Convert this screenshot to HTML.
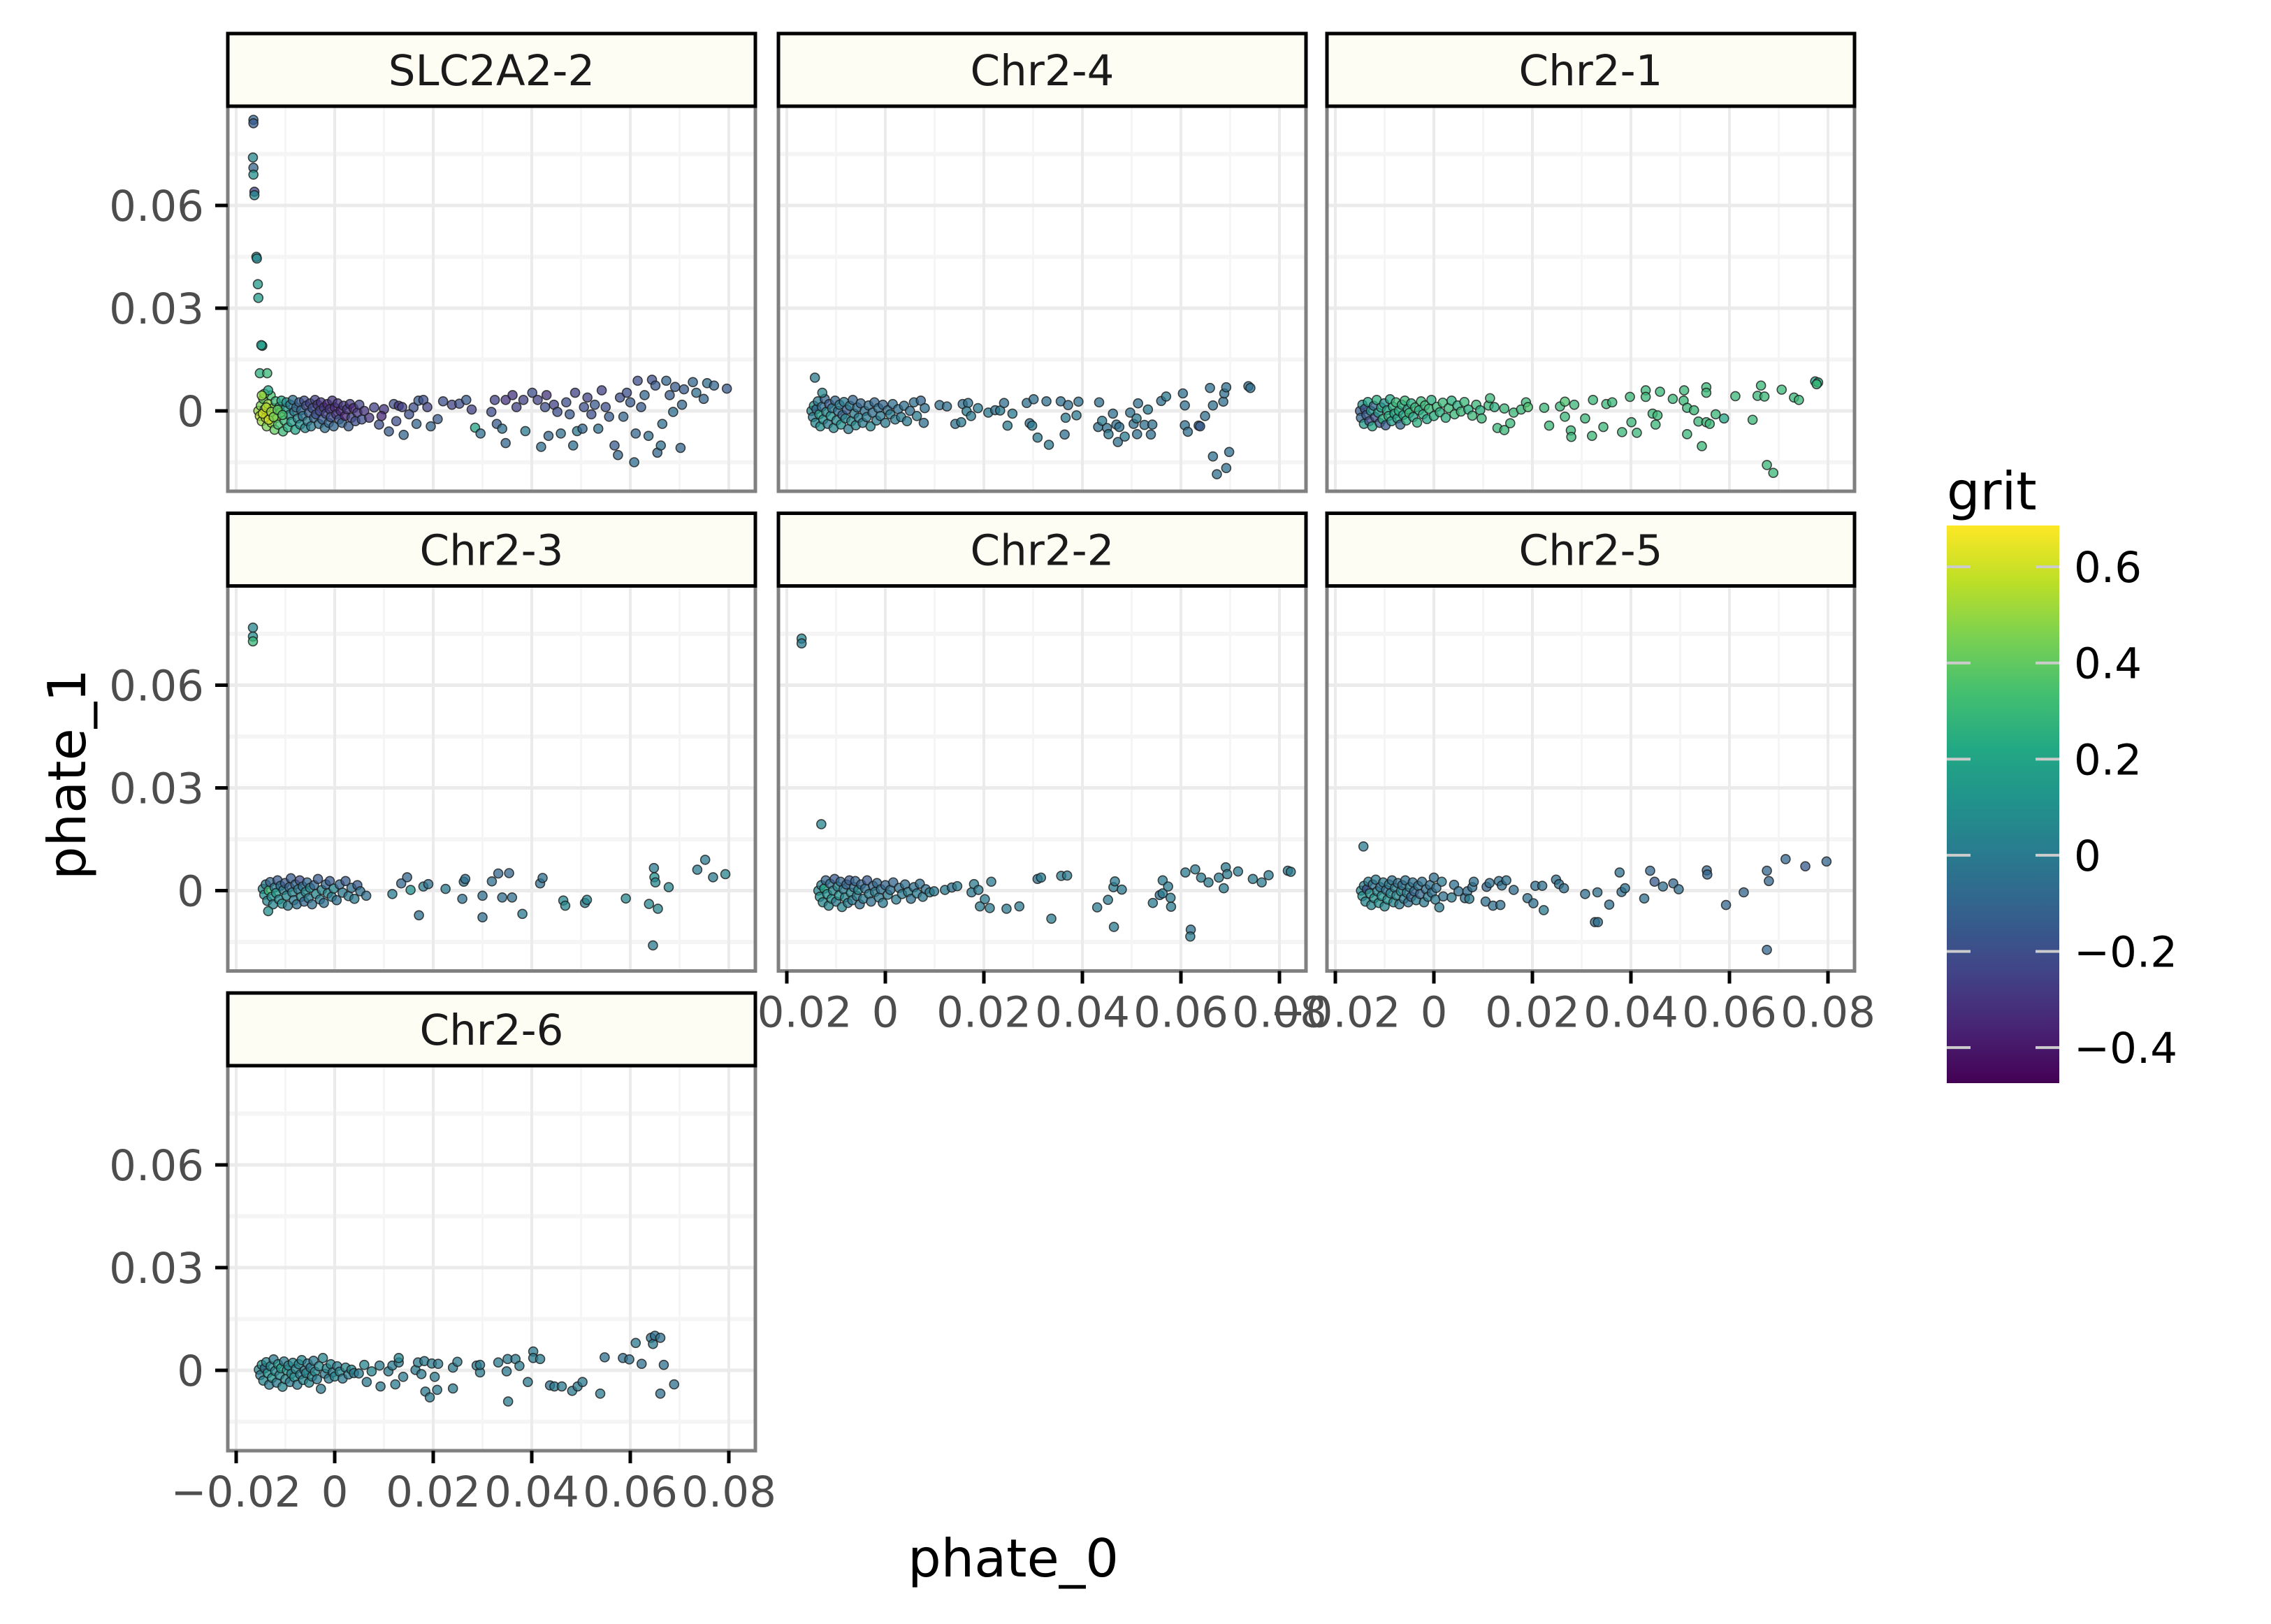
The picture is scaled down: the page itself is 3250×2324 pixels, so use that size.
<!DOCTYPE html>
<html><head><meta charset="utf-8"><style>
html,body{margin:0;padding:0;background:#fff;}
svg{display:block;font-family:"DejaVu Sans","Liberation Sans",sans-serif;}
</style></head><body>
<svg id="chart" width="3250" height="2324" viewBox="0 0 3250 2324" xmlns="http://www.w3.org/2000/svg">
<rect x="0" y="0" width="3250" height="2324" fill="#fff"/>
<g id="panels"></g>
<text x="1450" y="2256" font-size="75" text-anchor="middle" fill="#000">phate_0</text>
<text x="0" y="0" font-size="75" text-anchor="middle" fill="#000" transform="translate(122,1108) rotate(-90)">phate_1</text>
<g id="legend">
<text x="2786" y="729" font-size="75" fill="#000">grit</text>
</g>
</svg>
<script>
// ---- data (phate values in units of 1e-3; third value = grit) ----
const panelTitles = ["SLC2A2-2","Chr2-4","Chr2-1","Chr2-3","Chr2-2","Chr2-5","Chr2-6"];
const xTicks = [-0.02,0,0.02,0.04,0.06,0.08];
const xTickLabels = ["\u22120.02","0","0.02","0.04","0.06","0.08"];
const xMinor = [-0.01,0.01,0.03,0.05,0.07];
const yTicks = [0.06,0.03,0];
const yTickLabels = ["0.06","0.03","0"];
const yMinor = [0.075,0.045,0.015,-0.015];
const gritTicks = [0.6,0.4,0.2,0,-0.2,-0.4];
const gritTickLabels = ["0.6","0.4","0.2","0","\u22120.2","\u22120.4"];

const slc2a2_2 = [[-15.5,0,0.5],[-15.2,-1.5,0.55],[-15,1.5,0.45],[-14.8,-3,0.5],[-14.5,3.5,0.4],[-14.2,0.5,0.6],[-14,-2,0.55],[-13.8,-4.5,0.45],[-13.5,2,0.5],[-13.2,-1,0.6],[-13,4.5,0.35],[-12.8,-3.5,0.5],[-12.5,0.8,0.45],[-12.2,-5.5,0.4],[-12,2.8,0.3],[-11.8,-2,0.5],[-11.5,-4,0.35],[-11.2,1.2,0.25],[-11,-0.5,0.4],[-10.8,3,0.2],[-10.5,-6,0.3],[-10.2,-2.8,0.3],[-10,0.5,0.15],[-9.8,2.5,0.1],[-9.5,-4.8,0.25],[-9.2,-1.2,0.1],[-9,1.8,0],[-8.8,-3.2,0.15],[-8.5,3.2,-0.05],[-8.2,-0.2,0],[-8,-5.5,0.2],[-7.8,1,-0.1],[-7.5,-2.2,0.05],[-7.2,2.5,-0.15],[-7,-4,0.1],[-6.8,0.2,-0.1],[-6.5,-1.5,-0.05],[-6.2,3,-0.2],[-6,-5,0.05],[-5.8,1.5,-0.2],[-5.5,-3,0],[-5.2,-0.5,-0.15],[-5,2.2,-0.25],[-4.8,-4.5,0],[-4.5,0.8,-0.2],[-4.2,-2,-0.1],[-4,3.2,-0.25],[-3.8,-1,-0.2],[-3.5,1.8,-0.3],[-3.2,-3.8,-0.05],[-3,0,-0.25],[-2.8,2.5,-0.3],[-2.5,-2.5,-0.15],[-2.2,1,-0.3],[-2,-5,-0.05],[-1.8,-0.8,-0.25],[-1.5,2,-0.35],[-1.2,-3.5,-0.1],[-1,0.5,-0.3],[-0.8,-1.8,-0.2],[-0.5,3,-0.3],[-0.2,-4.5,-0.1],[0,1,-0.35],[0.3,-1,-0.3],[0.6,2.2,-0.3],[0.9,-2.5,-0.2],[1.2,0,-0.35],[1.5,-3.5,-0.1],[1.8,1.5,-0.3],[2.1,-1.5,-0.35],[2.5,0.5,-0.3],[2.8,-4.5,-0.15],[3.1,2,-0.3],[3.4,-2,-0.25],[3.8,0.8,-0.35],[4.2,-3,-0.2],[4.6,-0.5,-0.3],[5,1.8,-0.25],[5.5,-2.5,-0.2],[6,0,-0.3],[-14.6,-0.8,0.6],[-13.9,1,0.55],[-13.4,-2.6,0.6],[-12.9,-0.3,0.5],[-12.4,-1.8,0.45],[-11.6,0.3,0.4],[-10.6,-1.2,0.35],
[7,-2,-0.3],[8,1,-0.25],[9,-4,-0.2],[10,0.5,-0.3],[11,-6,-0.15],[12,2,-0.2],[9.5,-1.5,-0.35],[12.5,-3,-0.2],[14,-7,-0.1],[16,1,-0.2],[17,3,-0.15],[13,1.5,-0.3],
[13.7,1.1,-0.25],[15.1,-1,-0.2],[16.6,-3.8,-0.1],[18,3.2,-0.2],[18.8,1.1,-0.25],[19.5,-4.5,-0.1],[20.9,-2.4,-0.15],[22,2.8,-0.2],[23.8,1.8,-0.25],[25.3,2.1,-0.2],[26.7,3.2,-0.15],[27.8,0.4,-0.25],[28.5,-4.9,0.2],[29.6,-6.6,-0.05],[31.8,-0.3,-0.2],[32.5,3.2,-0.25],[32.9,-3.8,-0.15],[34,-5.2,-0.05],[34.7,3.2,-0.3],[34.7,-9.4,-0.1],[36.1,4.6,-0.3],[36.9,1.1,-0.25],[38.3,3.2,-0.25],[38.7,-5.9,0],[40.1,5.3,-0.2],[41.2,3.2,-0.25],[41.9,-10.5,-0.05],[42.7,1.1,-0.2],[43,4.6,-0.3],[43.4,-7.3,-0.1],[44.5,1.8,-0.25],[45.2,-0.3,-0.2],[45.9,-6.6,-0.05],[47,2.5,-0.2],[47.7,-1,-0.15],[48.4,-10.1,-0.05],[48.8,5.3,-0.25],[49.2,-5.9,0],[50.3,-5.2,-0.1],[50.6,1.1,-0.2],[51.3,3.9,-0.25],[52.1,-1,-0.2],[52.8,1.8,-0.15],[53.5,-5.2,-0.05],[54.2,6,-0.25],[55,1.1,-0.2],[55.7,-1.7,-0.15],[56.8,-10.1,-0.15],[57.5,-12.9,-0.1],[57.9,3.9,-0.2],[58.6,-1.7,-0.1],[59.3,5.3,-0.2],[60,2.5,-0.15],[60.8,-15,-0.05],[61.1,-6.6,-0.1],[61.5,8.8,-0.2],[62.2,1.1,-0.15],[62.9,4.6,-0.1],[63.7,-7.3,-0.05],[64.4,9.1,-0.2],[65.1,7.4,-0.15],[65.5,-12.2,-0.1],[66.2,-10.1,-0.05],[66.5,-3.8,-0.05],[67.3,8.8,-0.1],[68,4.6,-0.15],[68.7,-0.3,-0.05],[69.1,7,-0.15],[70.2,-10.8,-0.1],[70.5,1.8,-0.1],[70.9,6.3,-0.15],[72.7,8.4,-0.1],[73.4,5.3,-0.05],[74.9,3.5,-0.1],[75.6,8.1,-0.05],[77,7.4,-0.1],[79.6,6.5,-0.15],
[-16.5,85,-0.1],[-16.5,84,-0.15],[-16.6,74,0.05],[-16.5,71,-0.1],[-16.5,69,0.1],[-16.3,64,-0.25],[-16.3,63,0.05],[-15.9,45,0.1],[-15.8,44.5,0.05],[-15.6,37,0.15],[-15.5,33,0.15],[-14.7,19,0.2],[-14.9,19.2,0.15],[-15.2,11,0.25],[-13.7,11,0.3],[-14.3,5,0.45],[-13.5,6,0.2],[-14.8,4.5,0.5]];

const chr2_4 = [[-15,0,0.05],[-14.7,-1.8,0],[-14.5,1.5,0.1],[-14.2,-3.5,0.05],[-14,0.5,-0.1],[-13.7,2.8,0],[-13.4,-1,0.15],[-13.2,-4.5,0.1],[-12.9,1.2,-0.05],[-12.6,-2.5,0.1],[-12.3,3.5,-0.1],[-12,-0.3,0.05],[-11.7,-3.8,0],[-11.4,2,-0.15],[-11.1,-1.5,0.1],[-10.8,0.8,0],[-10.5,-5,0.05],[-10.2,3,-0.1],[-9.9,-2.8,0.05],[-9.6,0,-0.05],[-9.3,1.8,0],[-9,-4,0.1],[-8.7,-1.2,-0.1],[-8.4,2.6,0],[-8.1,-2.2,0.05],[-7.8,0.4,-0.15],[-7.5,-5.3,0],[-7.2,1.5,0],[-6.9,-3,0.05],[-6.6,3.2,-0.1],[-6.3,-0.8,0],[-6,-4.2,0.05],[-5.7,1,-0.05],[-5.4,-2,0],[-5,2.2,-0.1],[-4.6,-3.5,0],[-4.2,0,-0.05],[-3.8,-1.8,0],[-3.4,1.6,-0.05],[-3,-4.5,0.05],[-2.6,-0.5,-0.05],[-2.2,2.5,-0.1],[-1.8,-2.8,0],[-1.4,0.8,-0.05],[-1,-1.5,0],[-0.5,1.8,-0.1],[0,-3.5,0],[0.5,0.2,-0.05],[1,-1,0],[1.5,2,-0.05],[2,-2.5,0],[2.6,0.5,-0.05],[3.2,-1.8,0],[3.8,1.5,-0.05],[4.4,-3,0],[5,0,-0.05],[5.8,2.5,-0.05],[6.4,-1.5,0],[7.2,3,-0.1],[7.8,-3.5,-0.05],[8,0.8,-0.05],
[-14.3,9.7,0],[-12.8,5.3,0.05],[11,1.7,-0.05],[12.5,1.3,-0.05],[14.2,-3.8,-0.05],[15.4,-3.3,0],[15.7,2,-0.05],[16.8,2.3,-0.05],[16.5,-0.1,0],[17.4,-1.5,0],[18.8,0.8,0],[20.9,-0.5,0],[22.3,0.2,-0.05],[23.3,0.1,0],[24.1,2.3,-0.05],[24.8,-4.3,0],[25.8,-0.8,0],[28.7,2.3,-0.05],[29.3,-3.6,-0.05],[29.8,-4.3,0],[30.1,3.4,-0.05],[30.9,-7.8,0],[32.7,2.8,-0.05],[33.2,-9.9,0],[35.6,2.8,-0.05],[36.4,-6.9,-0.05],[36.6,-2,0],[37.1,1.7,-0.05],[38.8,-1.3,0],[39.2,2.7,-0.05],[43.2,-4.7,-0.05],[43.4,2.5,-0.05],[44,-2.9,0],[45,-5,-0.05],[45.3,-6.8,0],[46.2,-0.8,-0.05],[46.9,-4,-0.05],[47.2,-9.1,-0.05],[47.5,-4.7,-0.05],[48.6,-7.5,0],[49.7,-0.5,-0.05],[50.4,-3.8,-0.05],[51,-2.2,0],[51.1,-6.8,-0.05],[51.3,2.2,-0.05],[52.6,-4.1,-0.05],[53.3,0.4,0],[53.9,-6.9,-0.05],[54.2,-4,-0.05],[56,2.9,-0.05],[57,4.2,0],[60.4,5.1,-0.05],[60.8,-4.2,-0.05],[60.8,1.6,-0.05],[61.4,-6.1,-0.05],[63.6,-4.3,-0.1],[63.9,-4.5,-0.15],[64.9,-1.5,-0.05],[65.9,6.7,-0.05],[66.5,1.6,-0.05],[66.5,-13.3,-0.05],[67.3,-18.5,-0.05],[68.6,2.7,-0.05],[68.8,5.1,-0.05],[69.2,6.9,-0.05],[69.2,-16.7,-0.05],[69.8,-12,-0.05],[73.7,7.2,-0.05],[74.1,6.7,-0.05]];

const chr2_1 = [[-15,0,-0.15],[-14.8,-2,-0.1],[-14.5,1.8,0.1],[-14.2,-3.8,0.15],[-14,0.6,-0.2],[-13.7,-1.2,-0.15],[-13.4,2.6,0.2],[-13.1,-3,-0.2],[-12.8,0,0.1],[-12.5,-4.5,0.2],[-12.2,1.5,-0.1],[-11.9,-1.8,-0.2],[-11.6,3.2,0.25],[-11.3,-0.5,0.15],[-11,-3.5,-0.15],[-10.7,1,0.2],[-10.4,-2.4,0.25],[-10.1,2.2,0.1],[-9.8,-4.2,-0.15],[-9.5,0.2,0.2],[-9.2,-1.5,0.25],[-8.9,3.4,0.2],[-8.6,-3,0.15],[-8.3,1.2,0.25],[-8,-0.8,0.2],[-7.7,2.5,0.3],[-7.4,-2.2,0.2],[-7.1,0,0.25],[-6.8,-4,-0.1],[-6.5,1.8,0.25],[-6.2,-1.2,0.2],[-5.9,3,0.3],[-5.6,-2.8,0.25],[-5.3,0.5,0.2],[-5,-0.6,0.3],[-4.6,2.2,0.25],[-4.2,-1.8,0.2],[-3.8,1,0.3],[-3.4,-3.4,0.25],[-3,0.2,0.25],[-2.6,2.8,0.3],[-2.2,-1,0.25],[-1.8,1.6,0.3],[-1.4,-2.4,0.2],[-1,0.6,0.3],[-0.5,3.2,0.25],[0,-1.5,0.25],[0.6,1.2,0.3],[1.2,-0.4,0.25],[1.8,2.4,0.3],[2.4,-2,0.25],[3,0.8,0.3],[3.6,3,0.25],[4.2,-1,0.3],[4.8,1.6,0.25],[5.5,-0.2,0.3],[6.2,2.6,0.3],[7,0.4,0.25],[7.8,-1.4,0.3],[8.6,1.8,0.3],[9.4,0.2,0.25],
[9.7,-2.2,0.3],[11.1,1.6,0.3],[11.4,3.7,0.3],[12.3,1.1,0.25],[12.9,-5,0.3],[14.3,0.7,0.3],[14.3,-5.6,0.3],[15.5,-3.6,0.3],[16.2,-0.5,0.3],[17.7,0.4,0.3],[18.7,2.5,0.3],[19.1,1.1,0.35],[22.4,0.9,0.3],[23.4,-4.3,0.3],[25.6,1.3,0.3],[26.6,2.7,0.35],[26.6,-1.7,0.3],[27.8,-5.7,0.3],[27.9,-7.6,0.3],[28.5,1.8,0.3],[30.7,-2.2,0.3],[32.1,-7.3,0.3],[32.3,3.2,0.3],[34.4,-4.7,0.3],[35,2,0.3],[36.2,2.5,0.3],[38.2,-6.2,0.3],[39.8,4.1,0.3],[40.1,-3.3,0.3],[41.2,-6.4,0.3],[43,6,0.3],[43,4.1,0.3],[44.4,-0.8,0.3],[45,-4,0.3],[45.4,-1.3,0.3],[45.9,5.6,0.3],[48.5,3.5,0.3],[50.7,3,0.3],[50.8,6,0.3],[51.4,0.9,0.3],[51.4,-6.8,0.3],[52.8,0.2,0.3],[53.7,-3.1,0.3],[54.4,-10.3,0.3],[55.3,6.9,0.3],[55.3,5.3,0.3],[55.3,-3.3,0.3],[56,-3.8,0.3],[57.2,-1,0.3],[58.9,-2.2,0.2],[61.2,4.3,0.3],[64.7,-2.6,0.3],[65.7,4.4,0.3],[66.4,7.4,0.3],[67.1,4.2,0.3],[67.6,-15.8,0.3],[68.9,-18.1,0.3],[70.6,6.2,0.3],[73.1,3.9,0.3],[74.1,3.2,0.3],[77.4,8.6,0.2],[78,8.3,0.25],[77.7,7.8,0.3]];

const chr2_3 = [[-14.6,0.5,0.05],[-14.3,-1.2,0.1],[-14,1.8,0],[-13.7,-3,0.05],[-13.4,0,0.3],[-13.1,2.5,-0.1],[-12.8,-1.8,0.1],[-12.5,-4,0.05],[-12.2,0.9,0],[-11.9,-0.7,0.15],[-11.6,3,-0.15],[-11.3,-2.6,0.05],[-11,1.4,-0.05],[-10.7,-3.8,0.1],[-10.4,0.2,0],[-10.1,2.2,-0.15],[-9.8,-1.5,0.05],[-9.5,-4.4,0],[-9.2,1,-0.1],[-8.9,3.6,-0.15],[-8.6,-0.5,0.05],[-8.3,-2.8,0],[-8,1.8,-0.1],[-7.7,-4,-0.05],[-7.4,0.4,0],[-7.1,3,-0.2],[-6.8,-1.8,0.05],[-6.5,1.2,-0.05],[-6.2,-3.2,-0.1],[-5.9,-0.4,0.05],[-5.6,2.4,-0.1],[-5.3,-2.2,0],[-5,0.8,0.05],[-4.6,-4,-0.05],[-4.2,1.6,-0.1],[-3.8,-1,0.05],[-3.4,3.4,-0.15],[-3,-2.6,0],[-2.6,0.2,0.05],[-2.2,-3.6,-0.05],[-1.8,1.8,-0.1],[-1.4,-0.8,0.05],[-1,2.8,-0.15],[-0.6,-1.8,0],[-0.2,0.6,0.05],[0.4,-2.8,-0.05],[1,1.8,-0.1],[1.6,-0.6,0],[2.2,2.8,-0.15],[2.8,-1.6,0],[3.4,0.8,-0.05],[4,-2.4,0],[4.6,1.6,-0.15],[5.2,-0.2,-0.05],[-13.5,-6,0.1],
[6.4,-1.5,-0.05],[11.7,-1,0],[13.5,2.1,-0.1],[14.7,3.9,-0.1],[15.4,0.2,0.1],[17.1,-7.2,-0.05],[18,1.2,0],[19,1.9,-0.05],[22.5,0.5,0],[25.9,-2.4,-0.05],[26.2,2.6,-0.05],[26.5,3.4,-0.05],[30,-1.5,-0.05],[30,-7.8,-0.05],[31.9,2.7,-0.05],[33.2,5,-0.1],[34,-2,-0.05],[35.4,5.1,-0.1],[36,-2,-0.05],[38.1,-6.8,0],[41.7,2.1,-0.05],[42.2,3.7,-0.05],[46.4,-2.9,0.05],[46.8,-4.4,0.05],[50.8,-3.6,0],[51.2,-2.7,0.05],[59.1,-2.3,0.05],[63.8,-3.9,0.05],[64.6,-16,0],[64.8,6.6,0],[64.9,3.9,0.1],[65.1,2.4,0.05],[65.6,-5.3,0.05],[67.8,1,0.05],[73.6,6.1,0],[75.2,9,0],[76.8,3.9,0],[79.3,4.8,0.05],
[-16.6,76.8,0.05],[-16.6,74.2,0.1],[-16.6,72.8,0.3]];

const chr2_2 = [[-13.6,0,0.05],[-13.3,-1.8,0.1],[-13,1.6,0],[-12.7,-3.4,0.05],[-12.4,0.6,0.2],[-12.1,3,-0.1],[-11.8,-1,0.1],[-11.5,-4.4,0.05],[-11.2,2,-0.05],[-10.9,-2.4,0.1],[-10.6,0,0.05],[-10.3,3.4,-0.15],[-10,-3.2,0],[-9.7,1.2,0.05],[-9.4,-1.4,0.1],[-9.1,2.6,-0.1],[-8.8,-4.8,0.05],[-8.5,0.4,0],[-8.2,-2,0.05],[-7.9,1.8,-0.1],[-7.6,-3.6,0],[-7.3,3,-0.15],[-7,-0.6,0.05],[-6.7,-2.8,0],[-6.4,1,-0.05],[-6.1,2.8,-0.1],[-5.8,-1.6,0],[-5.5,0.2,0.05],[-5.2,-4,-0.05],[-4.9,1.8,-0.1],[-4.5,-2.4,0],[-4.1,0.6,-0.05],[-3.7,3,-0.15],[-3.3,-1,0],[-2.9,-3.2,-0.05],[-2.5,1.4,-0.1],[-2.1,-0.4,0],[-1.7,2.2,-0.1],[-1.3,-2,0],[-0.9,0.4,-0.05],[-0.5,-3.6,0],[0,1.6,-0.1],[0.5,-1.2,0],[1,0.2,-0.05],[1.6,2.4,-0.1],[2.2,-2.6,0],[2.8,0.8,-0.05],[3.4,-1,0],[4,1.8,-0.05],[4.6,-0.4,0],[5.2,-2.4,-0.05],[5.8,1,-0.05],[6.4,-0.8,0],[7,2,-0.05],[7.6,-1.8,0],[8.2,0.4,-0.05],[9,-0.5,0],
[9.9,-0.2,0],[12.1,0.2,0],[13.5,0.9,-0.05],[14.6,1.3,0],[17.5,-0.5,0],[18,1.9,0],[18.9,0.2,0],[19.2,-4.6,0],[20.2,-2.5,0],[21.2,-5.1,0],[21.5,2.6,0],[24.6,-5.3,0],[27.2,-4.6,0],[30.9,3.4,-0.05],[31.6,3.8,0],[33.7,-8.2,0],[35.7,4.3,0],[36.9,4.4,0],[43,-4.9,0],[45.2,-2.7,0],[46.3,1,0],[46.4,-10.6,0],[46.6,2.7,0],[48,0.3,0],[54.3,-3.6,0],[55.7,-1.3,-0.05],[56.3,3,0],[56.3,-0.8,0],[57.4,1.2,0],[57.9,-2.1,0],[58,-4.7,0],[60.9,5.3,0],[62,-11.4,-0.05],[61.9,-13.4,0],[62.9,6.2,0],[64.1,3.8,0],[65.6,2.4,0],[67.7,3.8,0],[68.7,0.7,0],[69.1,6.8,0],[69.4,4.8,0],[71.6,5.6,0],[74.6,3.4,0],[76.4,2.4,0],[77.8,4.5,0],[81.7,5.8,0],[82.3,5.5,0],
[-13,19.4,0.05],[-17,73.6,0.05],[-17,72.2,0]];

const chr2_5 = [[-14.8,0,0.05],[-14.5,-1.6,0.1],[-14.2,1.4,0],[-13.9,-3.2,0.05],[-13.6,0.4,-0.2],[-13.3,2.6,0],[-13,-0.8,0.1],[-12.7,-4.2,0.05],[-12.4,1.8,-0.05],[-12.1,-2.2,0.1],[-11.8,3.2,0],[-11.5,-0.2,0.05],[-11.2,-3.6,0.1],[-10.9,1,-0.05],[-10.6,-1.6,0.1],[-10.3,2.4,0],[-10,-4.6,0.05],[-9.7,0.2,-0.05],[-9.4,-2.6,0.1],[-9.1,1.8,0],[-8.8,-0.8,0.05],[-8.5,3,-0.05],[-8.2,-3.4,0.05],[-7.9,0.8,0],[-7.6,-1.4,0.05],[-7.3,2.2,-0.05],[-7,-4,0],[-6.7,-0.2,0.05],[-6.4,1.6,-0.05],[-6.1,-2.4,0],[-5.8,3,-0.05],[-5.5,-0.6,0],[-5.2,-3.4,-0.05],[-4.9,1,0],[-4.6,-1.8,-0.1],[-4.3,2.4,-0.05],[-4,-0.2,-0.1],[-3.6,-2.8,0],[-3.2,1.4,-0.05],[-2.8,-1,-0.1],[-2.4,2.6,-0.05],[-2,-3.4,0],[-1.6,0.4,-0.05],[-1.2,-1.8,0],[-0.8,1.6,-0.05],[-0.4,-0.6,-0.05],[0,3.8,-0.05],[0.3,-2.6,0],[0.5,0.8,-0.05],
[-14.3,12.9,0],[1.1,-4.9,0],[1.6,2.6,0],[1.9,-1.7,-0.05],[3.6,-2,0],[4.1,1.7,-0.05],[5,-0.2,-0.05],[6.3,-2.2,-0.05],[6.8,-0.2,-0.05],[7.2,-2.4,0],[7.8,1,-0.05],[8.1,2.6,-0.05],[10.5,-3.2,-0.05],[10.7,1.1,-0.1],[11.3,2.2,-0.05],[12,-4.4,-0.05],[13.2,2.8,-0.05],[13.5,-4.2,-0.05],[13.8,1.5,-0.05],[14.7,3,-0.05],[16.2,0.2,-0.05],[19,-2.2,-0.05],[20.2,-3.7,-0.05],[20.6,1.4,-0.05],[22,1.4,-0.05],[22.3,-5.7,0],[24.8,3.2,-0.05],[25.4,1.9,-0.05],[26.4,0.7,-0.05],[30.7,-1,-0.05],[32.7,-9.2,-0.05],[33.3,-9.2,-0.05],[33.2,-0.5,-0.05],[35.6,-4.1,-0.05],[37.7,5.3,-0.05],[38.1,-0.4,-0.05],[38.8,0.7,-0.05],[42.7,-2.3,-0.05],[43.9,5.8,-0.1],[44.8,2.6,-0.15],[46.5,1.2,-0.05],[48.6,2.1,-0.1],[49.7,0.4,-0.05],[55.4,5.9,-0.1],[55.5,4.7,-0.1],[59.3,-4.2,-0.1],[62.9,-0.5,-0.1],[67.6,5.8,-0.1],[67.6,-17.3,-0.1],[68,2.8,-0.1],[71.4,9.2,-0.1],[75.4,7.1,-0.15],[79.7,8.5,-0.1]];

const chr2_6 = [[-15.4,0.2,0.05],[-15.1,-1.4,0],[-14.8,1.6,0.1],[-14.5,-3,0.05],[-14.2,0.6,-0.05],[-13.9,2.4,0.05],[-13.6,-0.8,0.1],[-13.3,-4.2,0],[-13,1.2,0.05],[-12.7,-2.2,0.1],[-12.4,3.2,0],[-12.1,-0.2,0.05],[-11.8,-3.6,0],[-11.5,1.8,0.1],[-11.2,-1.4,0.05],[-10.9,0.6,0.15],[-10.6,-4.8,0.05],[-10.3,2.6,0],[-10,-2.6,0.05],[-9.7,0,0.1],[-9.4,1.4,0.05],[-9.1,-3.4,0],[-8.8,-1,0.05],[-8.5,2.2,0.05],[-8.2,-2,0.1],[-7.9,0.4,0.05],[-7.6,-4.2,0],[-7.3,1.8,0.05],[-7,-1.2,0],[-6.7,3,0.05],[-6.4,-2.8,0.05],[-6.1,0,0],[-5.8,-0.8,0.05],[-5.5,2,0],[-5.2,-3.6,0.05],[-4.9,0.8,0],[-4.6,-1.8,0.05],[-4.3,2.8,0],[-4,-0.4,0.05],[-3.6,-2.6,0],[-3.2,1.2,0.05],[-2.8,-5.4,0],[-2.4,3.6,0.05],[-2,-1,0],[-1.6,0.6,0.05],[-1.2,-2.4,0],[-0.8,1.8,0.05],[-0.4,-0.6,0],[0,-1.8,0.05],[0.5,1.2,0],[1,-0.4,0.05],[1.6,-2.4,0],[2.2,0.8,0.05],[2.8,-1.2,0],[3.4,0.2,0.05],[3.9,-0.8,0],
[4.9,-0.9,0],[6,1.6,0.05],[6.5,-3.4,0],[7.5,-0.3,0.05],[9.1,1.4,0],[9.3,-4.7,0],[10.9,-0.3,0],[11.7,1.4,0],[12.3,-4.1,0],[13,2.3,0],[13,3.6,0.05],[13.9,-1.9,0],[16.4,0.1,0],[16.9,2.3,0],[17.6,-1.1,0],[18.2,2.7,0],[18.4,-6.2,0],[19.3,-7.9,0],[19.7,2,0],[20.3,-1.9,0],[20.8,-5.7,0],[21,1.9,0],[24,-5.3,0],[24,0.8,0],[24.9,2.5,0],[28.8,1.4,0],[29.5,-0.6,0],[29.5,1.6,0],[33.2,2.3,0],[34.9,-0.3,0],[35.1,3.3,0],[35.2,-9.1,0],[36.7,3.3,0],[37.5,1.3,0],[39.2,-3.4,0],[40.3,5.5,0],[40.3,3.6,0],[41.7,3.3,0],[43.7,-4.4,-0.05],[44.6,-4.7,0],[46.1,-4.7,0],[48.2,-6,0],[49.3,-4.7,0],[50.3,-3.4,0],[53.9,-6.8,0],[54.8,3.8,-0.05],[58.5,3.6,-0.05],[59.8,3.2,-0.05],[61.1,8,0],[62.3,1.9,-0.05],[64.2,9.5,-0.05],[64.6,7.7,0],[65,10.1,-0.05],[66.1,9.5,-0.05],[66.1,-6.8,-0.05],[66.8,1.6,-0.05],[68.9,-4.1,-0.05]];

const panelData = [slc2a2_2, chr2_4, chr2_1, chr2_3, chr2_2, chr2_5, chr2_6];

// ---- layout ----
const NS = "http://www.w3.org/2000/svg";
const colLeft = [326, 1114, 1899];
const rowTop = [48, 734.5, 1421];
const PW = 755, STRIP_H = 104, PANEL_BOTTOM = 655;
const X_PER_UNIT = 7050, Y_PER_UNIT = 4900;
const gritMin = -0.474, gritMax = 0.686;
const viridis = ["#440154","#482475","#414487","#355f8d","#2a788e","#21918c","#22a884","#44bf70","#7ad151","#bddf26","#fde725"];

function hexToRgb(h){return [parseInt(h.slice(1,3),16),parseInt(h.slice(3,5),16),parseInt(h.slice(5,7),16)];}
function colorFor(v){
  let t=(v-gritMin)/(gritMax-gritMin); t=Math.max(0,Math.min(1,t));
  const f=t*(viridis.length-1), i=Math.min(viridis.length-2,Math.floor(f)), r=f-i;
  const a=hexToRgb(viridis[i]), b=hexToRgb(viridis[i+1]);
  return "rgb("+a.map((c,k)=>Math.round(c+(b[k]-c)*r)).join(",")+")";
}
function el(tag, attrs, parent){
  const e=document.createElementNS(NS,tag);
  for(const k in attrs) e.setAttribute(k,attrs[k]);
  parent.appendChild(e); return e;
}
const root = document.getElementById("panels");
const bottomRowOfCol = [2,1,1];

panelTitles.forEach((title, idx) => {
  const col = idx % 3, row = Math.floor(idx / 3);
  const L = colLeft[col], T = rowTop[row];
  const pTop = T + STRIP_H, pBot = T + PANEL_BOTTOM;
  const xs = v => L + 153 + v * X_PER_UNIT;
  const ys = v => T + 540 - v * Y_PER_UNIT;
  const g = el("g", {}, root);
  
  
  const bg = el("rect", {x:L, y:pTop, width:PW, height:pBot-pTop, fill:"#fff"}, g);
  
  
  xMinor.forEach(v => {
    const ln = el("line", {x1:xs(v), x2:xs(v), y1:pTop, y2:pBot, stroke:"#f5f5f5", "stroke-width":3}, g);
    
    
  });
  yMinor.forEach(v => {
    const ln = el("line", {x1:L, x2:L+PW, y1:ys(v), y2:ys(v), stroke:"#f5f5f5", "stroke-width":6}, g);
    
    
  });
  xTicks.forEach(v => {
    const ln = el("line", {x1:xs(v), x2:xs(v), y1:pTop, y2:pBot, stroke:"#ebebeb", "stroke-width":4}, g);
    
    
  });
  yTicks.forEach(v => {
    const ln = el("line", {x1:L, x2:L+PW, y1:ys(v), y2:ys(v), stroke:"#ebebeb", "stroke-width":5}, g);
    
    
  });
  const pg = el("g", {}, g);
  
  
  panelData[idx].forEach(p => {
    const c = el("circle", {cx:xs(p[0]/1000), cy:ys(p[1]/1000), r:6.5, fill:colorFor(p[2]), "fill-opacity":0.75, stroke:"#1a1a1a", "stroke-opacity":0.8, "stroke-width":1.6}, pg);
    
    
  });
  const bd = el("rect", {x:L, y:pTop, width:PW, height:pBot-pTop, fill:"none", stroke:"#808080", "stroke-width":5}, g);
  
  
  const st = el("rect", {x:L, y:T, width:PW, height:STRIP_H, fill:"#fdfdf3", stroke:"#000", "stroke-width":5}, g);
  
  
  const stt = el("text", {x:L+PW/2, y:T+74, "font-size":61, "text-anchor":"middle", fill:"#1a1a1a"}, g);
  stt.textContent = title;
  
  
  if (col === 0) {
    yTicks.forEach((v, i) => {
      const tk = el("line", {x1:L-18, x2:L, y1:ys(v), y2:ys(v), stroke:"#000", "stroke-width":5}, g);
      
      
      const tl = el("text", {x:L-34, y:ys(v)+22, "font-size":61, "text-anchor":"end", fill:"#4d4d4d"}, g);
      tl.textContent = yTickLabels[i];
      
      
    });
  }
  if (row === bottomRowOfCol[col]) {
    xTicks.forEach((v, i) => {
      const tk = el("line", {x1:xs(v), x2:xs(v), y1:pBot, y2:pBot+18, stroke:"#000", "stroke-width":5}, g);
      
      
      const tl = el("text", {x:xs(v), y:pBot+80, "font-size":61, "text-anchor":"middle", fill:"#4d4d4d"}, g);
      tl.textContent = xTickLabels[i];
      
      
    });
  }
});

// ---- legend colorbar ----
const lg = document.getElementById("legend");
const CB = {x:2786, y:752, w:161, h:798};
const gy = v => CB.y + CB.h - (v - gritMin) / (gritMax - gritMin) * CB.h;
const defs = el("defs", {}, lg);
const grad = el("linearGradient", {id:"vir", x1:0, y1:1, x2:0, y2:0}, defs);
viridis.forEach((c, i) => { el("stop", {offset:(i/(viridis.length-1)*100)+"%", "stop-color":c}, grad); });
const bar = el("rect", {x:CB.x, y:CB.y, width:CB.w, height:CB.h, fill:"url(#vir)"}, lg);


gritTicks.forEach((v, i) => {
  const a = el("line", {x1:CB.x, x2:CB.x+34, y1:gy(v), y2:gy(v), stroke:"#cccccc", "stroke-width":4}, lg);
  
  
  const b = el("line", {x1:CB.x+CB.w-34, x2:CB.x+CB.w, y1:gy(v), y2:gy(v), stroke:"#cccccc", "stroke-width":4}, lg);
  
  
  const t = el("text", {x:2968, y:gy(v)+22, "font-size":61, fill:"#000"}, lg);
  t.textContent = gritTickLabels[i];
  
  
});
</script>
</body></html>
